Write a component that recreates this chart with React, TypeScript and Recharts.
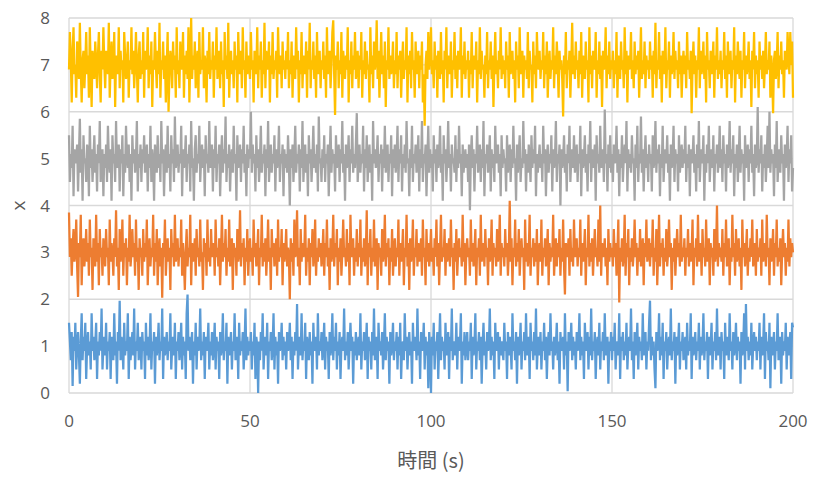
import React from "react";
import { LineChart, Line, XAxis, YAxis, CartesianGrid } from "recharts";

// sample spacing (s)
const DT = 0.25;

const X_TICKS = [0, 50, 100, 150, 200];
const Y_TICKS = [0, 1, 2, 3, 4, 5, 6, 7, 8];

// one row = 10 s of samples
const BLUE = [
  1.5, 1.1, 0.7, 1.3, 0.15, 1.2, 0.9, 1.5, 0.5, 1.0, 1.3, 0.8, 0.2, 1.1, 1.7, 0.7, 1.2, 0.9, 1.5, 0.3, 1.0, 1.3, 0.8, 1.1, 0.5, 1.7, 0.9, 1.2, 0.7, 1.0, 1.5, 0.3, 1.1, 0.8, 1.3, 0.9, 1.8, 0.5, 1.0, 1.2,
  0.8, 1.5, 0.5, 1.1, 0.9, 1.3, 0.3, 1.2, 1.0, 0.7, 1.7, 0.8, 1.1, 0.2, 1.3, 0.9, 1.97, 0.7, 1.2, 1.0, 0.5, 1.5, 0.8, 1.1, 0.9, 1.7, 0.3, 1.2, 0.7, 1.0, 1.3, 0.8, 1.8, 0.5, 1.1, 0.9, 1.5, 0.7, 1.0, 1.2,
  0.5, 1.3, 0.9, 1.1, 0.3, 1.5, 0.8, 1.2, 0.7, 1.0, 1.7, 0.5, 1.1, 0.9, 1.3, 0.2, 1.2, 0.8, 1.0, 1.5, 0.7, 1.1, 0.9, 1.8, 0.3, 1.2, 0.8, 1.0, 1.3, 0.7, 1.1, 0.9, 1.7, 0.5, 1.0, 1.2, 0.8, 1.5, 0.3, 1.1,
  0.9, 1.3, 0.7, 1.0, 1.5, 0.5, 1.2, 0.8, 1.1, 0.3, 1.7, 2.1, 0.9, 1.2, 0.7, 1.0, 1.3, 0.2, 1.1, 0.8, 1.5, 0.5, 1.2, 0.9, 1.0, 1.8, 0.7, 1.1, 0.8, 1.3, 0.3, 1.2, 0.9, 1.0, 1.5, 0.5, 1.1, 0.8, 1.3, 0.7,
  1.0, 1.5, 0.5, 1.2, 0.9, 1.1, 0.3, 1.3, 0.8, 1.0, 1.7, 0.7, 1.1, 0.9, 1.5, 0.2, 1.2, 0.8, 1.0, 1.3, 0.5, 1.1, 0.9, 1.7, 0.7, 1.0, 1.2, 0.3, 1.5, 0.8, 1.1, 0.9, 1.3, 0.5, 1.0, 1.8, 0.7, 1.2, 0.8, 1.1,
  0.9, 1.3, 0.5, 1.1, 0.8, 1.5, 0.3, 1.2, 1.0, 0.0, 1.1, 0.7, 1.3, 0.9, 1.7, 0.5, 1.0, 1.2, 0.8, 1.5, 0.3, 1.1, 0.9, 1.3, 0.7, 1.0, 1.7, 0.5, 1.2, 0.8, 1.1, 0.2, 1.3, 0.9, 1.0, 1.5, 0.7, 1.2, 0.8, 1.1,
  0.5, 1.3, 0.9, 1.0, 1.5, 0.7, 1.2, 0.3, 1.1, 0.8, 1.3, 0.9, 1.9, 0.5, 1.0, 1.2, 0.8, 1.7, 0.7, 1.1, 0.9, 1.5, 0.3, 1.2, 1.0, 0.7, 1.3, 0.8, 1.1, 0.2, 1.5, 0.9, 1.0, 1.2, 0.5, 1.7, 0.8, 1.1, 0.9, 1.3,
  0.7, 1.0, 1.5, 0.5, 1.2, 0.9, 1.1, 0.3, 1.3, 0.8, 1.0, 1.7, 0.7, 1.2, 0.9, 1.5, 0.5, 1.1, 0.8, 1.3, 0.3, 1.0, 1.2, 0.9, 1.8, 0.7, 1.1, 0.8, 1.3, 0.5, 1.0, 1.5, 0.9, 1.2, 0.2, 1.1, 0.8, 1.3, 0.7, 1.0,
  1.2, 0.8, 1.7, 0.5, 1.1, 0.9, 1.3, 0.7, 1.0, 1.5, 0.3, 1.2, 0.9, 1.1, 0.5, 1.3, 0.8, 1.8, 0.7, 1.0, 1.2, 0.3, 1.5, 0.9, 1.1, 0.8, 1.3, 0.5, 1.0, 1.7, 0.7, 1.2, 0.9, 1.1, 0.2, 1.3, 0.8, 1.0, 1.5, 0.7,
  1.1, 0.9, 1.3, 0.5, 1.2, 0.8, 1.5, 0.3, 1.0, 1.1, 0.7, 1.7, 0.9, 1.2, 0.5, 1.0, 1.3, 0.8, 1.1, 0.2, 1.5, 0.9, 1.0, 1.2, 0.7, 1.8, 0.8, 1.1, 0.3, 1.3, 0.9, 1.0, 1.5, 0.5, 1.2, 0.8, 1.1, 0.1, 1.3, 0.9,
  0.0, 1.2, 0.8, 1.5, 0.5, 1.1, 0.9, 1.3, 0.3, 1.0, 1.7, 0.7, 1.2, 0.9, 1.1, 0.5, 1.5, 0.8, 1.0, 1.3, 0.3, 1.2, 0.9, 1.8, 0.7, 1.0, 1.1, 0.8, 1.5, 0.5, 1.2, 0.9, 1.0, 1.7, 0.2, 1.1, 0.8, 1.3, 0.7, 1.0,
  1.3, 0.7, 1.1, 0.9, 1.5, 0.3, 1.2, 0.8, 1.0, 1.7, 0.5, 1.1, 0.9, 1.3, 0.7, 1.2, 0.2, 1.0, 1.5, 0.8, 1.1, 0.5, 1.3, 0.9, 1.0, 1.8, 0.7, 1.2, 0.8, 1.1, 0.3, 1.5, 0.9, 1.0, 1.3, 0.5, 1.2, 0.8, 1.1, 0.9,
  0.7, 1.5, 0.9, 1.1, 0.3, 1.3, 0.8, 1.2, 1.0, 0.5, 1.7, 0.9, 1.1, 0.7, 1.3, 0.2, 1.2, 0.8, 1.0, 1.5, 0.5, 1.1, 0.9, 1.3, 0.7, 1.7, 0.8, 1.0, 1.2, 0.3, 1.5, 0.9, 1.1, 0.7, 1.3, 0.8, 1.8, 0.5, 1.0, 1.2,
  0.8, 1.3, 0.5, 1.1, 0.9, 1.5, 0.7, 1.2, 0.3, 1.0, 1.3, 0.8, 1.7, 0.9, 1.1, 0.5, 1.2, 0.8, 1.0, 1.5, 0.7, 1.1, 0.2, 1.3, 0.9, 1.0, 1.2, 0.5, 1.7, 0.8, 1.1, 0.04, 1.3, 0.9, 1.0, 1.5, 0.7, 1.2, 0.8, 1.1,
  0.5, 1.3, 0.9, 1.0, 1.7, 0.7, 1.2, 0.8, 1.1, 0.3, 1.5, 0.9, 1.0, 1.3, 0.5, 1.2, 0.8, 1.8, 0.7, 1.1, 0.9, 1.3, 0.3, 1.0, 1.2, 0.8, 1.5, 0.5, 1.1, 0.9, 1.3, 0.7, 1.7, 0.8, 1.0, 1.2, 0.2, 1.1, 0.9, 1.3,
  0.7, 1.2, 0.9, 1.5, 0.5, 1.0, 1.1, 0.8, 1.7, 0.3, 1.2, 0.9, 1.3, 0.7, 1.1, 0.8, 1.5, 0.5, 1.0, 1.2, 0.9, 1.8, 0.7, 1.1, 0.3, 1.3, 0.8, 1.0, 1.5, 0.5, 1.2, 0.9, 1.1, 0.7, 1.7, 0.8, 1.0, 1.3, 0.5, 1.1,
  0.9, 1.5, 1.97, 0.7, 1.2, 0.8, 1.1, 0.5, 0.1, 1.3, 0.9, 1.0, 1.7, 0.7, 1.2, 0.8, 1.5, 0.3, 1.1, 0.9, 1.3, 0.5, 1.0, 1.2, 0.8, 1.8, 0.7, 1.1, 0.9, 1.3, 0.2, 1.2, 0.8, 1.0, 1.5, 0.5, 1.1, 0.9, 1.3, 0.7,
  1.0, 1.2, 0.5, 1.5, 0.8, 1.1, 0.9, 1.7, 0.3, 1.2, 0.8, 1.0, 1.3, 0.7, 1.1, 0.9, 1.5, 0.5, 1.2, 0.8, 1.0, 1.7, 0.7, 1.1, 0.9, 1.3, 0.3, 1.2, 0.8, 1.0, 1.5, 0.5, 1.1, 0.9, 1.3, 0.7, 1.8, 0.8, 1.0, 1.2,
  0.5, 1.3, 0.9, 1.1, 0.3, 1.5, 0.8, 1.2, 1.0, 0.7, 1.7, 0.9, 1.1, 0.5, 1.3, 0.8, 1.0, 1.5, 0.7, 1.2, 0.9, 1.1, 0.2, 1.3, 0.8, 1.0, 1.7, 0.5, 1.9, 0.9, 1.2, 0.7, 1.1, 0.8, 1.5, 0.5, 1.0, 1.3, 0.9, 1.2,
  0.7, 1.1, 0.9, 1.5, 0.5, 1.2, 0.8, 1.0, 1.7, 0.3, 1.3, 0.9, 1.1, 0.7, 1.5, 0.1, 1.2, 0.8, 1.0, 1.3, 0.5, 1.1, 0.9, 1.7, 0.7, 1.0, 1.2, 0.2, 1.3, 0.8, 1.1, 0.9, 1.5, 0.5, 1.2, 0.8, 1.0, 1.3, 0.3, 1.5,
  1.4,
];

const ORANGE = [
  3.85, 2.9, 3.3, 2.5, 3.1, 3.5, 2.8, 3.0, 3.7, 2.7, 2.05, 3.2, 2.9, 3.8, 2.3, 3.1, 3.3, 2.7, 3.0, 3.5, 2.8, 3.2, 2.5, 3.7, 2.9, 3.1, 2.2, 3.3, 3.0, 2.7, 3.8, 2.8, 3.2, 2.3, 3.5, 2.9, 3.1, 2.5, 3.3, 3.0,
  2.7, 3.5, 2.9, 3.1, 2.3, 3.7, 2.8, 3.2, 3.0, 2.5, 3.3, 2.9, 3.9, 2.7, 3.1, 2.2, 3.5, 2.8, 3.0, 3.7, 2.5, 3.2, 2.9, 3.3, 2.3, 3.1, 2.8, 3.8, 2.7, 3.0, 3.5, 2.9, 3.2, 2.5, 3.7, 2.8, 3.1, 2.2, 3.3, 2.9,
  3.1, 2.5, 3.5, 2.8, 3.2, 2.9, 3.7, 2.3, 3.0, 3.3, 2.7, 3.1, 2.9, 3.8, 2.5, 3.2, 2.8, 3.5, 2.3, 3.0, 3.3, 2.7, 3.1, 2.03, 3.2, 2.9, 3.7, 2.5, 3.0, 3.3, 2.8, 3.1, 2.2, 3.5, 2.9, 3.2, 2.7, 3.8, 2.8, 3.0,
  3.3, 2.7, 3.1, 2.9, 3.7, 2.5, 3.2, 2.8, 2.2, 3.0, 3.5, 2.7, 3.1, 2.9, 3.8, 2.3, 3.2, 2.8, 3.0, 3.3, 2.5, 3.5, 2.9, 3.1, 2.7, 3.7, 2.8, 3.0, 2.2, 3.3, 2.9, 3.2, 2.5, 3.7, 2.8, 3.1, 2.7, 3.5, 2.9, 3.0,
  3.2, 2.5, 3.7, 2.9, 3.1, 2.7, 3.3, 2.3, 3.0, 3.8, 2.8, 3.2, 2.9, 3.5, 2.5, 3.1, 2.8, 3.7, 2.7, 3.0, 3.3, 2.2, 3.2, 2.9, 3.1, 2.5, 3.5, 2.8, 3.0, 3.9, 2.7, 3.2, 2.9, 3.3, 2.3, 3.1, 2.8, 3.5, 2.5, 3.0,
  3.3, 2.8, 3.1, 2.5, 3.7, 2.9, 3.2, 2.7, 3.0, 3.5, 2.3, 3.1, 2.9, 3.8, 2.7, 3.2, 2.8, 3.3, 2.5, 3.0, 3.7, 2.8, 3.1, 2.2, 3.5, 2.9, 3.2, 2.7, 3.0, 3.3, 2.5, 3.7, 2.8, 3.1, 2.9, 3.5, 2.3, 3.2, 2.8, 3.0,
  3.5, 2.7, 3.1, 2.9, 2.0, 3.3, 2.8, 3.2, 2.5, 3.7, 2.9, 3.0, 3.9, 2.7, 3.1, 2.3, 3.5, 2.8, 3.2, 2.9, 3.0, 3.8, 2.5, 3.1, 2.8, 3.3, 2.3, 3.2, 2.9, 3.5, 2.7, 3.0, 3.7, 2.5, 3.1, 2.8, 3.3, 2.9, 3.2, 2.7,
  3.0, 3.5, 2.5, 3.2, 2.9, 3.7, 2.7, 3.1, 2.2, 3.3, 2.8, 3.0, 3.8, 2.7, 3.2, 2.9, 3.5, 2.3, 3.1, 2.8, 3.3, 2.5, 3.0, 3.7, 2.9, 3.1, 2.7, 3.5, 2.8, 3.2, 2.3, 3.8, 2.9, 3.0, 3.3, 2.5, 3.1, 2.8, 3.5, 2.7,
  3.2, 2.9, 3.7, 2.5, 3.1, 2.8, 3.3, 2.7, 3.0, 3.9, 2.3, 3.2, 2.9, 3.5, 2.5, 3.1, 2.8, 3.7, 2.7, 3.0, 3.3, 2.2, 3.2, 2.9, 3.1, 2.5, 3.5, 2.8, 3.0, 3.8, 2.7, 3.2, 2.9, 3.3, 2.3, 3.1, 2.8, 3.5, 2.5, 3.0,
  3.3, 2.7, 3.1, 2.9, 3.7, 2.5, 3.2, 2.8, 3.0, 3.5, 2.3, 3.1, 2.9, 3.8, 2.7, 3.2, 2.2, 3.3, 2.8, 3.0, 3.7, 2.5, 3.1, 2.9, 3.5, 2.7, 3.2, 2.8, 3.0, 3.3, 2.5, 3.7, 2.9, 3.1, 2.3, 3.5, 2.8, 3.2, 2.7, 3.0,
  3.5, 2.8, 3.1, 2.5, 3.3, 2.9, 3.7, 2.7, 3.2, 2.3, 3.0, 3.8, 2.8, 3.1, 2.9, 3.5, 2.5, 3.2, 2.8, 3.0, 3.3, 2.7, 3.7, 2.9, 3.1, 2.2, 3.2, 2.8, 3.5, 2.5, 3.0, 3.3, 2.9, 3.1, 2.7, 3.8, 2.8, 3.2, 2.3, 3.0,
  3.3, 2.9, 3.1, 2.5, 3.7, 2.8, 3.2, 2.7, 3.0, 3.5, 2.3, 3.1, 2.9, 3.3, 2.5, 3.8, 2.8, 3.0, 3.2, 2.7, 3.5, 2.9, 3.1, 2.3, 3.3, 2.8, 3.0, 3.7, 2.5, 3.2, 2.9, 3.1, 2.7, 3.5, 2.8, 3.0, 3.8, 2.5, 3.2, 2.9,
  3.1, 2.7, 3.5, 2.9, 3.2, 2.5, 3.0, 4.1, 2.8, 3.3, 2.3, 3.1, 2.9, 3.7, 2.7, 3.2, 2.8, 3.5, 2.5, 3.0, 3.3, 2.9, 3.1, 2.2, 3.7, 2.8, 3.2, 2.7, 3.0, 3.8, 2.5, 3.1, 2.9, 3.3, 2.7, 3.2, 2.8, 3.5, 2.3, 3.0,
  3.2, 2.8, 3.7, 2.5, 3.1, 2.9, 3.3, 2.7, 3.0, 3.5, 2.3, 3.2, 2.8, 3.1, 2.9, 3.8, 2.5, 3.0, 3.3, 2.7, 3.2, 2.9, 3.5, 2.5, 3.1, 2.8, 3.7, 2.7, 2.1, 3.2, 2.9, 3.0, 3.3, 2.5, 3.5, 2.8, 3.1, 2.7, 3.7, 2.9,
  3.0, 3.3, 2.7, 3.1, 2.9, 3.7, 2.5, 3.2, 2.8, 3.0, 3.5, 2.3, 3.1, 2.9, 3.8, 2.7, 3.2, 2.8, 3.3, 2.5, 3.0, 3.5, 2.9, 3.1, 2.7, 3.7, 2.8, 4.0, 2.5, 3.2, 2.9, 3.0, 3.3, 2.7, 3.1, 2.3, 3.5, 2.8, 3.2, 2.9,
  3.1, 2.7, 3.5, 2.9, 3.2, 2.5, 3.0, 3.7, 1.93, 3.1, 2.8, 3.3, 2.7, 3.0, 3.8, 2.5, 3.2, 2.9, 3.5, 2.3, 3.1, 2.8, 3.3, 2.7, 3.0, 3.7, 2.9, 3.2, 2.5, 3.1, 2.8, 3.5, 2.7, 3.0, 3.3, 2.3, 3.2, 2.9, 3.7, 2.8,
  3.0, 3.3, 2.7, 3.2, 2.9, 3.7, 2.5, 3.1, 2.8, 3.5, 2.3, 3.0, 3.8, 2.7, 3.2, 2.9, 3.3, 2.5, 3.1, 2.8, 3.5, 2.7, 3.0, 3.7, 2.9, 3.2, 2.2, 3.1, 2.8, 3.3, 2.5, 3.0, 3.5, 2.9, 3.2, 2.7, 3.8, 2.8, 3.1, 2.9,
  3.3, 2.5, 3.1, 2.9, 3.5, 2.7, 3.2, 2.8, 3.0, 3.7, 2.3, 3.1, 2.9, 3.3, 2.7, 3.8, 2.8, 3.0, 3.2, 2.5, 3.5, 2.9, 3.1, 2.7, 3.7, 2.8, 3.0, 3.3, 2.3, 3.2, 2.9, 3.1, 2.5, 3.5, 2.8, 3.0, 4.0, 2.7, 3.2, 2.9,
  3.1, 2.8, 3.5, 2.5, 3.2, 2.9, 3.7, 2.7, 3.0, 3.3, 2.3, 3.1, 2.8, 3.8, 2.9, 3.2, 2.5, 3.5, 2.8, 3.0, 3.3, 2.7, 3.1, 2.2, 3.7, 2.9, 3.2, 2.7, 3.0, 3.5, 2.5, 3.1, 2.8, 3.3, 2.9, 3.7, 2.7, 3.0, 3.2, 2.5,
  3.5, 2.8, 3.1, 2.9, 3.3, 2.5, 3.7, 2.8, 3.0, 3.2, 2.7, 3.8, 2.9, 3.1, 2.3, 3.3, 2.8, 3.0, 3.5, 2.5, 3.2, 2.9, 3.7, 2.7, 3.1, 2.8, 3.3, 2.3, 3.0, 3.5, 2.9, 3.2, 2.5, 3.1, 2.8, 3.7, 2.7, 3.3, 2.9, 3.2,
  3.0,
];

const GRAY = [
  5.5, 4.5, 5.1, 4.8, 5.7, 4.2, 5.2, 4.9, 5.0, 5.3, 4.3, 5.1, 5.85, 4.7, 5.2, 4.1, 5.5, 4.9, 5.0, 4.5, 5.3, 5.1, 4.2, 5.7, 4.8, 5.2, 4.5, 5.0, 5.5, 4.7, 5.1, 4.3, 5.3, 4.9, 5.8, 4.5, 5.0, 5.2, 4.2, 5.1,
  4.8, 5.3, 4.5, 5.7, 5.0, 4.7, 5.2, 4.1, 5.5, 4.9, 5.1, 4.5, 5.8, 4.8, 5.0, 5.3, 4.3, 5.2, 4.9, 5.5, 4.2, 5.1, 4.7, 5.7, 5.0, 4.8, 5.3, 4.5, 5.1, 4.1, 5.5, 4.9, 5.2, 4.7, 5.0, 5.8, 4.3, 5.1, 4.8, 5.3,
  4.5, 5.2, 4.9, 5.5, 4.7, 5.0, 5.3, 4.3, 5.1, 4.8, 5.7, 4.5, 5.2, 4.9, 4.1, 5.3, 5.0, 4.7, 5.5, 4.8, 5.1, 4.5, 5.8, 4.9, 5.2, 4.2, 5.0, 5.3, 4.7, 5.7, 4.8, 5.1, 4.3, 5.5, 4.9, 5.2, 4.5, 5.9, 4.8, 5.0,
  5.3, 4.7, 5.1, 4.9, 5.7, 4.2, 5.2, 4.8, 5.0, 5.5, 4.5, 5.1, 4.9, 5.3, 4.3, 5.8, 4.8, 5.0, 4.1, 5.2, 5.5, 4.7, 5.1, 4.9, 5.7, 4.5, 5.0, 5.3, 4.8, 5.2, 4.2, 5.5, 4.9, 5.1, 4.7, 5.8, 4.8, 5.0, 5.3, 4.3,
  5.2, 4.8, 5.7, 4.5, 5.1, 4.9, 5.3, 4.2, 5.0, 5.5, 4.7, 5.2, 4.9, 5.9, 4.5, 5.1, 4.8, 5.3, 4.3, 5.0, 5.2, 4.7, 5.7, 4.9, 5.1, 4.1, 5.5, 4.8, 5.0, 5.3, 4.5, 5.2, 4.9, 5.7, 4.7, 5.1, 4.2, 5.3, 4.8, 5.2,
  5.0, 6.0, 4.7, 5.3, 4.9, 5.1, 4.3, 5.5, 4.8, 5.2, 4.5, 5.0, 5.7, 4.7, 5.1, 4.9, 5.3, 4.2, 5.2, 4.8, 5.8, 4.5, 5.0, 5.3, 4.7, 5.1, 4.9, 5.5, 4.3, 5.2, 4.8, 5.0, 5.7, 4.5, 5.1, 4.9, 5.3, 4.2, 5.2, 4.8,
  5.1, 4.7, 5.5, 4.9, 4.0, 5.2, 4.8, 5.3, 4.5, 5.0, 5.7, 4.7, 5.1, 4.9, 5.3, 4.3, 5.2, 4.8, 5.8, 4.5, 5.0, 5.3, 4.7, 5.1, 4.2, 5.5, 4.9, 5.2, 4.5, 5.0, 5.7, 4.8, 5.1, 4.7, 5.3, 4.3, 5.9, 4.9, 5.0, 4.5,
  5.2, 4.8, 5.5, 4.5, 5.1, 4.9, 5.3, 4.2, 5.0, 5.7, 4.7, 5.2, 4.9, 5.1, 4.3, 5.5, 4.8, 5.0, 5.3, 4.5, 5.2, 4.9, 5.8, 4.7, 5.1, 4.1, 5.3, 4.8, 5.0, 5.5, 4.5, 5.2, 4.9, 5.7, 4.7, 5.1, 4.8, 5.3, 5.97, 4.5,
  5.0, 5.3, 4.7, 5.1, 4.9, 5.7, 4.3, 5.2, 4.8, 5.5, 4.5, 5.0, 5.3, 4.7, 5.1, 4.1, 5.8, 4.9, 5.2, 4.8, 5.0, 5.5, 4.5, 5.1, 4.9, 5.3, 4.3, 5.2, 4.8, 5.7, 4.7, 5.0, 5.3, 4.5, 5.1, 4.9, 5.5, 4.2, 5.2, 4.8,
  5.3, 4.7, 5.0, 5.7, 4.5, 5.2, 4.9, 5.5, 4.3, 5.1, 4.8, 5.3, 4.7, 5.8, 4.9, 5.0, 4.2, 5.2, 4.8, 5.7, 4.5, 5.1, 4.9, 5.3, 4.7, 5.0, 5.5, 4.3, 5.2, 4.8, 5.8, 4.5, 5.1, 4.9, 5.3, 4.2, 5.0, 5.7, 4.7, 5.2,
  4.8, 5.1, 4.3, 5.5, 4.9, 5.2, 4.5, 5.3, 4.8, 5.0, 5.7, 4.7, 5.1, 4.1, 5.5, 4.9, 5.2, 4.5, 5.0, 5.8, 4.8, 5.1, 4.3, 5.3, 4.9, 5.0, 4.7, 5.5, 4.5, 5.2, 4.8, 5.7, 4.9, 5.1, 4.2, 5.3, 4.7, 5.0, 5.2, 4.8,
  5.1, 4.5, 5.3, 3.9, 5.0, 5.5, 4.8, 5.2, 4.3, 5.1, 4.9, 5.7, 4.7, 5.0, 5.3, 4.5, 5.2, 4.8, 5.8, 4.2, 5.1, 4.9, 5.3, 4.7, 5.0, 5.5, 4.3, 5.2, 4.8, 5.1, 4.5, 5.7, 4.9, 5.0, 5.3, 4.7, 5.1, 4.2, 5.5, 4.8,
  5.2, 4.9, 5.0, 4.3, 5.5, 4.7, 5.1, 5.3, 4.5, 5.2, 4.8, 5.7, 4.9, 5.0, 4.1, 5.3, 4.7, 5.1, 5.5, 4.5, 5.0, 4.8, 5.8, 4.9, 5.2, 4.3, 5.1, 4.7, 5.3, 5.0, 4.5, 5.5, 4.8, 5.2, 4.9, 5.7, 4.2, 5.1, 4.7, 5.0,
  5.3, 4.8, 5.1, 4.5, 5.7, 4.9, 5.2, 4.2, 5.0, 5.3, 4.7, 5.1, 4.9, 5.5, 4.3, 5.2, 4.8, 5.0, 5.8, 4.5, 5.1, 4.9, 5.3, 4.0, 5.2, 4.8, 5.0, 5.5, 4.7, 5.1, 4.3, 5.3, 4.9, 5.7, 4.5, 5.0, 5.2, 4.8, 5.5, 4.7,
  5.0, 5.3, 4.5, 5.1, 4.9, 5.7, 4.2, 5.2, 4.8, 5.0, 5.5, 4.7, 5.1, 4.3, 5.3, 4.9, 5.8, 4.5, 5.2, 4.8, 5.0, 5.3, 4.1, 5.5, 4.9, 5.1, 4.7, 5.7, 4.8, 5.0, 5.2, 4.5, 6.05, 4.9, 5.1, 4.3, 5.3, 4.8, 5.5, 4.7,
  5.1, 4.5, 5.3, 4.9, 5.0, 5.7, 4.7, 5.2, 4.2, 5.1, 4.8, 5.5, 4.5, 5.0, 5.3, 4.9, 5.8, 4.3, 5.2, 4.8, 5.1, 4.7, 5.5, 4.9, 5.0, 4.1, 5.3, 4.8, 5.7, 4.5, 5.1, 4.9, 5.9, 4.7, 5.2, 4.3, 5.0, 5.5, 4.8, 5.1,
  4.5, 5.3, 4.9, 5.1, 4.3, 5.5, 4.8, 5.0, 5.8, 4.7, 5.2, 4.9, 5.3, 4.2, 5.1, 4.8, 5.7, 4.5, 5.0, 5.2, 4.9, 5.5, 4.7, 5.1, 4.1, 5.3, 4.8, 5.0, 5.7, 4.5, 5.2, 4.9, 5.1, 4.3, 5.5, 4.7, 5.0, 5.3, 4.8, 5.2,
  4.9, 5.7, 4.5, 5.1, 4.8, 5.3, 4.2, 5.2, 4.9, 5.0, 5.5, 4.7, 5.1, 4.3, 5.3, 4.8, 5.8, 4.5, 5.0, 5.2, 4.9, 5.5, 4.1, 5.1, 4.7, 5.3, 4.9, 5.7, 4.5, 5.0, 5.2, 4.8, 5.5, 4.3, 5.1, 4.9, 5.3, 4.7, 5.0, 5.7,
  4.8, 5.2, 4.5, 5.5, 4.9, 5.1, 4.3, 5.3, 4.8, 5.0, 5.8, 4.7, 5.2, 4.9, 5.5, 4.2, 5.1, 4.8, 5.3, 4.5, 5.0, 5.7, 4.7, 5.2, 4.9, 5.1, 4.1, 5.5, 4.8, 5.0, 5.3, 4.5, 5.2, 4.9, 5.7, 4.7, 5.1, 4.2, 5.3, 4.8,
  5.0, 6.1, 4.7, 5.2, 4.9, 5.5, 4.3, 5.1, 4.8, 5.3, 4.5, 5.0, 5.7, 4.8, 6.0, 4.7, 5.2, 4.9, 5.1, 4.2, 5.3, 4.8, 5.8, 4.5, 5.0, 5.2, 4.7, 5.5, 4.9, 5.1, 4.1, 5.3, 4.8, 5.0, 5.7, 4.5, 5.2, 4.9, 5.5, 4.3,
  4.8,
];

const YELLOW = [
  6.9, 7.7, 7.1, 6.2, 7.3, 7.8, 6.8, 7.0, 6.3, 7.5, 7.2, 6.7, 7.9, 6.9, 6.2, 7.1, 7.3, 6.5, 7.0, 7.7, 6.8, 7.2, 6.3, 7.8, 6.9, 6.1, 7.3, 7.0, 6.7, 7.5, 7.1, 6.5, 7.2, 7.7, 6.8, 6.2, 7.3, 6.9, 7.8, 7.0,
  6.5, 7.3, 7.1, 6.8, 7.9, 6.3, 7.0, 7.5, 6.7, 6.9, 7.7, 6.1, 7.2, 7.0, 6.8, 7.8, 6.5, 7.3, 6.9, 7.1, 6.2, 7.7, 7.2, 6.7, 7.0, 7.5, 6.3, 7.1, 6.9, 7.8, 6.8, 7.3, 6.5, 7.0, 7.7, 6.9, 6.2, 7.2, 7.5, 6.7,
  7.1, 6.8, 7.7, 6.3, 7.3, 6.9, 7.0, 7.8, 6.5, 7.2, 6.8, 7.5, 6.1, 7.1, 6.9, 7.7, 7.0, 6.5, 7.3, 6.8, 7.9, 6.3, 7.1, 6.9, 7.5, 6.7, 7.2, 6.2, 7.0, 7.7, 6.0, 6.8, 7.3, 7.1, 6.5, 7.5, 6.9, 7.2, 6.3, 7.8,
  6.8, 7.1, 6.5, 7.5, 7.0, 6.9, 7.7, 6.3, 7.2, 6.8, 7.3, 6.7, 7.8, 6.2, 7.1, 8.0, 6.7, 7.2, 6.9, 7.5, 6.5, 7.0, 7.3, 6.3, 7.7, 6.8, 7.1, 6.9, 7.8, 6.5, 7.2, 7.0, 6.2, 7.3, 6.8, 7.7, 6.7, 7.1, 6.9, 7.5,
  6.3, 7.2, 6.9, 7.8, 6.7, 7.0, 7.3, 6.5, 7.5, 6.8, 7.1, 6.1, 7.7, 6.9, 7.2, 6.7, 7.9, 6.3, 7.0, 7.3, 6.8, 7.1, 6.5, 7.5, 6.9, 7.2, 6.2, 7.7, 7.0, 6.8, 7.3, 6.5, 7.8, 6.9, 7.1, 6.3, 7.5, 6.8, 7.2, 7.0,
  6.7, 7.7, 6.9, 7.1, 6.2, 7.3, 7.0, 6.8, 7.8, 6.5, 7.2, 6.9, 7.5, 6.3, 7.1, 6.8, 7.9, 6.5, 7.3, 7.0, 6.9, 7.5, 6.2, 7.2, 6.8, 7.7, 6.7, 7.1, 6.9, 7.3, 6.3, 7.8, 7.0, 6.8, 7.2, 6.5, 7.5, 6.9, 7.1, 6.7,
  7.3, 6.9, 7.7, 6.5, 7.1, 6.8, 7.5, 6.3, 7.2, 7.0, 6.7, 7.8, 6.9, 7.3, 6.2, 7.1, 6.8, 7.7, 6.5, 7.2, 7.0, 6.8, 7.5, 6.3, 7.3, 6.9, 7.9, 6.5, 7.1, 6.9, 7.5, 6.7, 7.2, 6.3, 7.7, 6.8, 7.0, 7.3, 6.5, 7.1,
  6.9, 7.5, 6.7, 7.2, 6.3, 7.8, 6.8, 7.1, 7.3, 6.5, 7.0, 7.7, 7.95, 6.8, 5.93, 7.2, 6.9, 7.5, 6.5, 7.1, 6.8, 7.7, 6.3, 7.3, 7.0, 6.7, 7.2, 6.9, 7.8, 6.2, 7.1, 6.8, 7.5, 6.5, 7.2, 6.9, 7.7, 6.7, 7.0, 7.3,
  6.5, 7.2, 6.9, 7.7, 6.3, 7.1, 6.8, 7.5, 6.7, 7.3, 6.9, 7.0, 6.2, 7.8, 6.8, 7.2, 6.5, 7.5, 6.9, 7.1, 7.95, 6.7, 7.3, 6.3, 7.0, 7.7, 6.8, 7.2, 6.5, 7.5, 6.1, 7.1, 6.9, 7.8, 6.7, 7.2, 6.8, 7.0, 7.5, 6.5,
  7.1, 6.8, 7.7, 6.5, 7.2, 6.9, 7.3, 6.3, 7.0, 7.5, 6.7, 7.1, 6.9, 7.8, 6.2, 7.2, 6.8, 7.3, 6.5, 7.7, 6.9, 7.1, 6.3, 7.5, 6.8, 7.0, 7.3, 6.5, 7.2, 6.9, 7.5, 6.2, 6.8, 5.7, 7.0, 7.3, 6.7, 7.7, 6.9, 7.2,
  7.8, 6.8, 7.1, 6.5, 7.5, 6.9, 7.2, 6.3, 7.3, 7.0, 6.7, 7.7, 6.8, 7.1, 6.2, 7.3, 6.9, 7.8, 6.5, 7.2, 7.0, 6.8, 7.5, 6.3, 7.1, 6.9, 7.7, 6.7, 7.2, 6.5, 7.3, 6.9, 7.0, 7.8, 6.3, 7.2, 6.8, 7.5, 6.7, 7.1,
  6.9, 7.3, 6.3, 7.1, 6.8, 7.7, 6.5, 7.2, 7.0, 6.9, 7.5, 6.2, 7.1, 6.8, 7.8, 6.7, 7.3, 6.9, 7.0, 6.3, 7.2, 6.8, 7.7, 6.5, 7.1, 6.9, 7.5, 6.7, 7.2, 6.1, 7.0, 7.7, 6.8, 7.1, 6.5, 7.3, 6.9, 7.8, 6.7, 7.2,
  6.8, 7.1, 6.5, 7.5, 6.9, 7.2, 6.3, 7.7, 6.8, 7.0, 7.3, 6.7, 7.1, 6.2, 7.5, 6.9, 7.2, 6.5, 7.8, 6.8, 7.0, 7.3, 6.3, 7.2, 6.9, 7.1, 6.7, 7.7, 6.5, 7.3, 6.9, 7.0, 6.2, 7.5, 6.8, 7.2, 6.5, 7.7, 7.0, 6.9,
  7.3, 6.7, 7.1, 6.9, 7.7, 6.5, 7.2, 6.8, 7.5, 6.3, 7.0, 7.3, 6.7, 7.1, 6.9, 7.8, 6.5, 7.2, 6.8, 7.5, 7.0, 6.3, 7.3, 6.9, 7.1, 6.7, 5.9, 7.2, 6.8, 7.7, 6.5, 7.1, 6.9, 7.3, 6.3, 7.0, 7.9, 6.8, 7.2, 6.7,
  7.5, 6.9, 7.1, 6.5, 7.3, 6.8, 7.7, 6.3, 7.2, 7.0, 6.7, 7.5, 6.9, 7.1, 6.2, 7.8, 6.8, 7.2, 6.5, 7.3, 7.0, 6.9, 7.7, 6.3, 7.1, 6.8, 7.5, 6.7, 7.2, 6.1, 7.3, 6.9, 7.0, 7.8, 6.5, 7.2, 6.8, 7.5, 6.7, 7.1,
  6.9, 7.3, 6.5, 7.1, 6.8, 7.7, 6.3, 7.2, 7.0, 6.7, 7.5, 6.9, 7.1, 6.5, 7.8, 6.8, 7.3, 6.2, 7.2, 6.9, 7.0, 7.7, 6.7, 7.1, 6.5, 7.5, 6.8, 7.2, 6.9, 7.3, 6.3, 7.0, 7.8, 6.7, 7.1, 6.8, 7.5, 6.5, 7.2, 6.9,
  7.1, 6.7, 7.5, 6.9, 7.2, 6.3, 7.3, 6.8, 7.9, 6.5, 7.1, 6.9, 7.7, 6.7, 7.2, 6.2, 7.3, 7.0, 6.8, 7.8, 6.5, 7.1, 6.9, 7.5, 6.3, 7.2, 6.8, 7.0, 7.7, 6.7, 7.3, 6.9, 7.1, 6.5, 7.5, 6.8, 7.2, 6.3, 7.0, 7.3,
  6.8, 7.2, 6.5, 7.7, 6.9, 7.1, 6.7, 7.3, 5.97, 7.0, 7.5, 6.8, 7.2, 6.3, 7.1, 6.9, 7.8, 6.5, 7.3, 6.8, 7.0, 7.5, 6.7, 7.2, 6.2, 7.7, 6.9, 7.1, 6.5, 7.3, 6.8, 7.0, 7.5, 6.3, 7.2, 6.9, 7.8, 6.7, 7.1, 6.8,
  7.3, 6.5, 7.1, 6.9, 7.7, 6.7, 7.2, 6.3, 7.5, 6.8, 7.0, 7.3, 6.5, 7.1, 6.9, 7.8, 6.2, 7.2, 6.8, 7.5, 7.0, 6.7, 7.3, 6.3, 7.1, 6.9, 7.7, 6.5, 7.2, 6.8, 7.0, 7.5, 6.7, 7.1, 6.1, 7.3, 6.9, 7.7, 6.5, 7.2,
  6.8, 7.1, 6.3, 7.5, 6.9, 7.2, 6.7, 7.3, 6.5, 7.0, 7.7, 6.8, 7.1, 6.9, 7.5, 6.3, 7.2, 6.8, 5.97, 7.1, 7.3, 6.7, 7.0, 7.7, 6.5, 7.2, 6.9, 7.5, 6.8, 7.1, 6.3, 7.3, 7.0, 6.9, 7.7, 7.2, 6.8, 7.7, 7.0, 7.5,
  6.3,
];

const n = Math.max(BLUE.length, ORANGE.length, GRAY.length, YELLOW.length);
const data = Array.from({ length: n }, (_, i) => ({
  t: i * DT,
  blue: BLUE[i],
  orange: ORANGE[i],
  gray: GRAY[i],
  yellow: YELLOW[i],
}));

const tickStyle = { fill: "#595959", fontSize: 17, fontFamily: "'Open Sans', sans-serif" };

export default function App() {
  return (
    <div style={{ position: "absolute", left: 0, top: 0, width: 813, height: 477, background: "#fff" }}>
      <LineChart width={813} height={477} data={data} margin={{ top: 18, right: 20, left: 0, bottom: 0 }}>
        <CartesianGrid stroke="#d9d9d9" strokeWidth={1.3} />
        <XAxis
          dataKey="t"
          type="number"
          domain={[0, 200]}
          ticks={X_TICKS}
          axisLine={false}
          tickLine={false}
          tickSize={0}
          tickMargin={22}
          height={84}
          tick={tickStyle}
          label={{
            value: "時間 (s)",
            position: "insideBottom",
            offset: 9,
            style: { fill: "#595959", fontSize: 20, fontFamily: "'Noto Sans CJK JP', sans-serif" },
          }}
        />
        <YAxis
          type="number"
          domain={[0, 8]}
          ticks={Y_TICKS}
          axisLine={false}
          tickLine={false}
          tickSize={0}
          tickMargin={19}
          width={69}
          tick={tickStyle}
          label={{
            value: "x",
            angle: -90,
            position: "insideLeft",
            offset: 18,
            style: { fill: "#595959", fontSize: 19, fontFamily: "'Open Sans', sans-serif", textAnchor: "middle" },
          }}
        />
        <Line type="linear" dataKey="blue" stroke="#5b9bd5" strokeWidth={2.25} dot={false} isAnimationActive={false} />
        <Line type="linear" dataKey="orange" stroke="#ed7d31" strokeWidth={2.25} dot={false} isAnimationActive={false} />
        <Line type="linear" dataKey="gray" stroke="#a5a5a5" strokeWidth={2.25} dot={false} isAnimationActive={false} />
        <Line type="linear" dataKey="yellow" stroke="#ffc000" strokeWidth={2.25} dot={false} isAnimationActive={false} />
      </LineChart>
    </div>
  );
}
